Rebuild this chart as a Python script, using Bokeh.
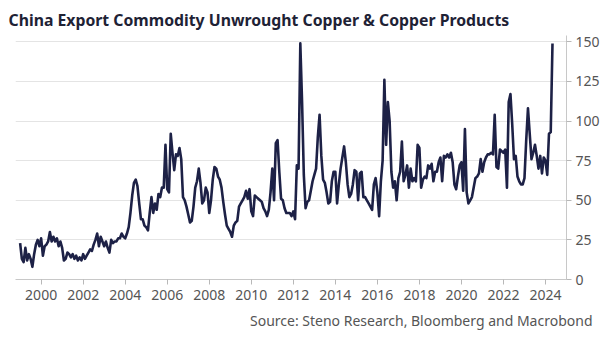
import numpy as np
from bokeh.plotting import figure
from bokeh.models import ColumnDataSource, FixedTicker, Range1d, Title
from bokeh.embed import file_html
from bokeh.resources import INLINE

start_year = 1999
copper_exports = [
    23, 13, 11, 20, 12, 16, 13, 8, 16, 22, 25, 21,        # 1999
    26, 15, 21, 22, 24, 30, 24, 27, 24, 26, 21, 24,       # 2000
    20, 12, 13, 17, 16, 14, 16, 13, 15, 12, 14, 12,       # 2001
    16, 13, 15, 17, 19, 18, 22, 25, 29, 21, 27, 24,       # 2002
    21, 24, 20, 17, 25, 23, 24, 24, 26, 26, 29, 27,       # 2003
    26, 29, 33, 42, 53, 61, 63, 59, 48, 38, 38, 34,       # 2004
    33, 31, 42, 52, 42, 48, 44, 54, 52, 58, 58, 85,       # 2005
    57, 55, 92, 80, 69, 79, 78, 83, 76, 52, 50, 46,       # 2006
    41, 36, 37, 46, 58, 62, 70, 61, 48, 50, 58, 55,       # 2007
    42, 50, 63, 71, 70, 65, 63, 58, 49, 41, 34, 32,       # 2008
    30, 27, 34, 36, 37, 46, 48, 50, 52, 56, 51, 57,       # 2009
    43, 40, 53, 52, 51, 50, 49, 45, 43, 40, 44, 55,       # 2010
    70, 50, 86, 88, 68, 51, 50, 45, 42, 42, 42, 40,       # 2011
    43, 38, 72, 70, 149, 112, 66, 45, 49, 50, 56, 62,     # 2012
    66, 70, 90, 104, 78, 63, 61, 55, 48, 49, 62, 68,      # 2013
    68, 48, 60, 70, 77, 84, 74, 60, 52, 54, 60, 69,       # 2014
    68, 50, 67, 68, 52, 52, 50, 48, 46, 44, 60, 64,       # 2015
    55, 40, 62, 75, 126, 85, 112, 100, 68, 58, 62, 50,    # 2016
    64, 68, 87, 62, 66, 72, 58, 70, 62, 64, 62, 85,       # 2017
    83, 58, 63, 65, 64, 72, 70, 73, 62, 68, 68, 74,       # 2018
    77, 62, 78, 77, 79, 77, 80, 74, 60, 57, 65, 72,       # 2019
    74, 56, 95, 55, 48, 50, 52, 58, 64, 65, 67, 76,       # 2020
    68, 74, 77, 79, 79, 80, 79, 104, 71, 70, 82, 81,      # 2021
    80, 82, 58, 112, 117, 98, 76, 78, 65, 62, 60, 60,     # 2022
    64, 88, 108, 92, 76, 80, 85, 78, 70, 78, 67, 77,      # 2023
    75, 66, 92, 93, 149,                                  # 2024
]
year_ticks = list(range(2000, 2025, 2))
value_ticks = [0, 25, 50, 75, 100, 125, 150]

title_text = "China Export Commodity Unwrought Copper & Copper Products"
source_text = "Source: Steno Research, Bloomberg and Macrobond"

x = start_year + np.arange(len(copper_exports)) / 12.0
src = ColumnDataSource(dict(x=x, y=copper_exports))

FONT = "Noto Sans"
GREY = "#555555"

p = figure(width=602, height=344, output_backend="svg", toolbar_location=None,
           x_range=Range1d(1998.78, 2025.0), y_range=Range1d(0, 154),
           y_axis_location="right",
           min_border_left=15, min_border_right=36, min_border_top=35,
           min_border_bottom=65)
p.outline_line_color = None
p.background_fill_color = "white"
p.border_fill_color = "white"

p.line("x", "y", source=src, line_color="#1d2146", line_width=2.6,
       line_join="round")

p.xgrid.visible = False
p.ygrid.grid_line_color = "#e4e4e4"
p.ygrid.grid_line_width = 1

p.xaxis.ticker = FixedTicker(ticks=year_ticks)
p.yaxis.ticker = FixedTicker(ticks=value_ticks)
for ax in (p.xaxis, p.yaxis):
    ax.axis_line_color = "#c8c8c8"
    ax.major_tick_line_color = "#b8b8b8"
    ax.minor_tick_line_color = None
    ax.major_tick_in = 0
    ax.major_tick_out = 5
    ax.major_label_text_font = FONT
    ax.major_label_text_font_size = "14px"
    ax.major_label_text_color = GREY
p.yaxis.major_label_standoff = 4
p.xaxis.major_label_standoff = 5

title = Title(text=title_text, align="left", offset=-7, standoff=9,
              text_font=FONT, text_font_size="15.8px", text_font_style="bold",
              text_color="#1e2235")
p.add_layout(title, "above")

source = Title(text=source_text, align="right", offset=-26, standoff=13,
               text_font=FONT, text_font_size="14px", text_font_style="normal",
               text_color=GREY)
p.add_layout(source, "below")

open("out.html", "w").write(file_html(p, INLINE))
